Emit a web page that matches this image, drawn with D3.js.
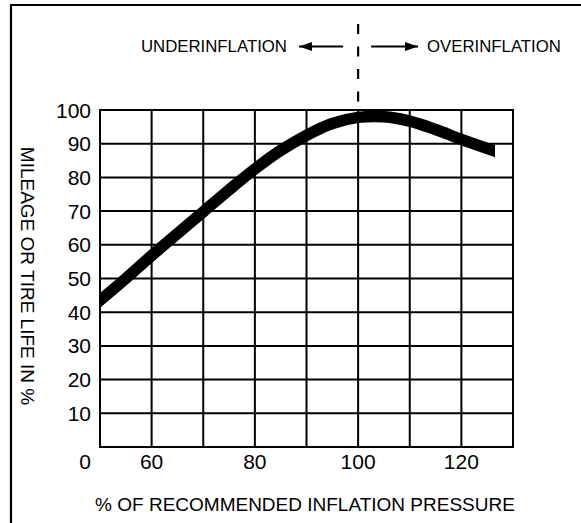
<!DOCTYPE html>
<html>
<head>
<meta charset="utf-8">
<script src="https://cdn.jsdelivr.net/npm/d3@7"></script>
<style>
html,body{margin:0;padding:0;background:#fff;}
svg{display:block;font-family:"Liberation Sans",Arial,sans-serif;}
</style>
</head>
<body>
<svg id="chart" width="581" height="523"></svg>
<script>
// ---- data ----
const pressure = [50, 55, 60, 65, 70, 75, 80, 85, 90, 95, 100, 105, 110, 115, 120, 126.5];
const mileage  = [43.5, 50, 56.8, 63.3, 69.8, 76.3, 82.5, 88, 92.5, 96, 97.8, 98, 96.7, 94.2, 91.3, 87.8];
const xTickLabels = [60, 80, 100, 120];
const yTickLabels = [10, 20, 30, 40, 50, 60, 70, 80, 90, 100];
const originLabel = "0";
const xTitle = "% OF RECOMMENDED INFLATION PRESSURE";
const yTitle = "MILEAGE OR TIRE LIFE IN %";
const leftNote = "UNDERINFLATION";
const rightNote = "OVERINFLATION";
const nominal = 100;

// ---- layout ----
const svg = d3.select("#chart");
const m = {left:100, top:110, right:513, bottom:447};
const x = d3.scaleLinear().domain([50,130]).range([m.left, m.right]);
const y = d3.scaleLinear().domain([0,100]).range([m.bottom, m.top]);

// outer frame (left and top only)
svg.append("path").attr("d", "M11,523 V5 H581")
  .attr("fill","none").attr("stroke","#000").attr("stroke-width",2.2);

// grid
const gx = d3.range(50, 131, 10), gy = d3.range(0, 101, 10);
svg.append("g").selectAll("line").data(gx).join("line")
  .attr("x1", d => x(d)).attr("x2", d => x(d))
  .attr("y1", y(0)).attr("y2", y(100))
  .attr("stroke","#000").attr("stroke-width",2);
svg.append("g").selectAll("line").data(gy).join("line")
  .attr("x1", x(50)-1).attr("x2", x(130)+1)
  .attr("y1", d => y(d)).attr("y2", d => y(d))
  .attr("stroke","#000").attr("stroke-width",2);

// tick labels
svg.append("g").selectAll("text").data(yTickLabels).join("text")
  .attr("x", 91).attr("y", d => y(d)).attr("dy","0.36em")
  .attr("text-anchor","end").attr("font-size",21).text(d => d);
svg.append("g").selectAll("text").data(xTickLabels).join("text")
  .attr("x", d => x(d)).attr("y", 469)
  .attr("text-anchor","middle").attr("font-size",21).text(d => d);
svg.append("text").attr("x", 85).attr("y", 469)
  .attr("text-anchor","middle").attr("font-size",21).text(originLabel);

// titles
svg.append("text").attr("x", 305).attr("y", 511)
  .attr("text-anchor","middle").attr("font-size",19).text(xTitle);
svg.append("text").attr("transform","translate(21,276) rotate(90)")
  .attr("text-anchor","middle").attr("font-size",19).text(yTitle);

// dashed nominal line
svg.append("line").attr("x1", x(nominal)).attr("x2", x(nominal))
  .attr("y1", 24).attr("y2", m.top)
  .attr("stroke","#000").attr("stroke-width",2.2)
  .attr("stroke-dasharray","10,12.5");

// arrows & notes
const defs = svg.append("defs");
defs.append("marker").attr("id","ah").attr("viewBox","0 0 13 9")
  .attr("refX",13).attr("refY",4.5).attr("markerWidth",13).attr("markerHeight",9)
  .attr("markerUnits","userSpaceOnUse").attr("orient","auto")
  .append("path").attr("d","M0,0 L13,4.5 L0,9 Z").attr("fill","#000");
const ay = 46.5;
svg.append("line").attr("x1", x(nominal)-15).attr("x2", 299).attr("y1", ay).attr("y2", ay)
  .attr("stroke","#000").attr("stroke-width",1.8).attr("marker-end","url(#ah)");
svg.append("line").attr("x1", x(nominal)+13).attr("x2", 418).attr("y1", ay).attr("y2", ay)
  .attr("stroke","#000").attr("stroke-width",1.8).attr("marker-end","url(#ah)");
svg.append("text").attr("x", 287).attr("y", 52).attr("text-anchor","end")
  .attr("font-size",16.8).text(leftNote);
svg.append("text").attr("x", 427).attr("y", 52).attr("text-anchor","start")
  .attr("font-size",16.8).text(rightNote);

// curve
defs.append("clipPath").attr("id","cp").append("rect")
  .attr("x", x(pressure[0])).attr("y", 0)
  .attr("width", x(pressure[pressure.length-1]) - x(pressure[0])).attr("height", 523);
const pts = pressure.map((p,i) => [p, mileage[i]]);
const line = d3.line().x(d => x(d[0])).y(d => y(d[1])).curve(d3.curveCatmullRom.alpha(0.5));
svg.append("path").attr("d", line(pts)).attr("clip-path","url(#cp)")
  .attr("fill","none").attr("stroke","#000").attr("stroke-width",11.5)
  .attr("stroke-linecap","square").attr("stroke-linejoin","round");
</script>
</body>
</html>
